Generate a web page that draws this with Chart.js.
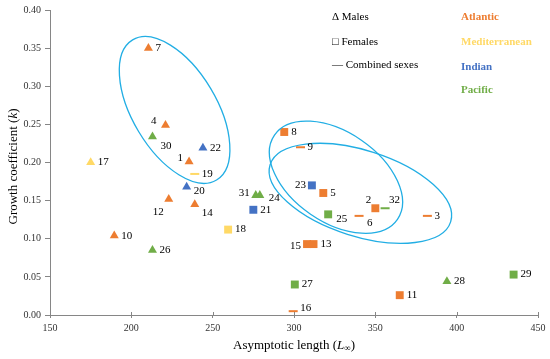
<!DOCTYPE html>
<html>
<head>
<meta charset="utf-8">
<script src="https://cdn.jsdelivr.net/npm/chart.js@4/dist/chart.umd.min.js"></script>
<style>
html,body{margin:0;padding:0;background:#fff;}
#c{display:block;}
</style>
</head>
<body>
<canvas id="c" width="550" height="359"></canvas>
<script>
// ---- data ----
const ids        = [1, 2, 3, 4, 5, 6, 7, 8, 9, 10, 11, 12, 13, 14, 15, 16, 17, 18, 19, 20, 21, 22, 23, 24, 25, 26, 27, 28, 29, 30, 31, 32];
const asymLength = [235.5, 350, 382, 221, 318, 340, 210.5, 294, 304, 189.5, 365, 223, 312, 239, 308, 299.5, 175, 259.5, 239, 234, 275, 244, 311, 279, 321, 213, 300.5, 394, 435, 213, 276.5, 356];
const growthK    = [0.201, 0.140, 0.130, 0.249, 0.160, 0.130, 0.350, 0.240, 0.220, 0.104, 0.026, 0.152, 0.093, 0.145, 0.093, 0.005, 0.200, 0.112, 0.185, 0.168, 0.138, 0.219, 0.170, 0.157, 0.132, 0.085, 0.040, 0.044, 0.053, 0.234, 0.157, 0.140];
const sexes      = ['M','F','C','M','F','C','M','F','C','M','F','M','F','M','F','C','M','F','C','M','F','M','F','M','F','M','F','M','F','M','M','C'];
const oceans     = ['Atlantic','Atlantic','Atlantic','Atlantic','Atlantic','Atlantic','Atlantic','Atlantic','Atlantic','Atlantic','Atlantic','Atlantic','Atlantic','Atlantic','Atlantic','Atlantic','Mediterranean','Mediterranean','Mediterranean','Indian','Indian','Indian','Indian','Pacific','Pacific','Pacific','Pacific','Pacific','Pacific','Pacific','Pacific','Pacific'];
const oceanNames = ['Atlantic','Mediterranean','Indian','Pacific'];
const sexNames   = ['Males','Females','Combined sexes'];
const xTicks     = [150, 200, 250, 300, 350, 400, 450];
const yTicks     = [0, 0.05, 0.10, 0.15, 0.20, 0.25, 0.30, 0.35, 0.40];
// grouping ellipses: [centre, end of long semi-axis, end of short semi-axis] in data units
const ellipses = [
  [[226.6, 0.2689], [252.4, 0.1770], [204.5, 0.2405]],
  [[325.8, 0.1807], [363.6, 0.1254], [310.2, 0.1321]],
  [[340.8, 0.1596], [396.3, 0.1221], [332.9, 0.1058]]
];

// ---- styles ----
const oceanColors = {Atlantic:'#ED7D31', Mediterranean:'#FFD966', Indian:'#4472C4', Pacific:'#70AD47'};
const sexStyle = {
  M: {pointStyle:'triangle', radius:5.2, borderWidth:0},
  F: {pointStyle:'rect', radius:5.6, borderWidth:0},
  C: {pointStyle:'line', radius:4.5, borderWidth:2}
};
// label placement: [dx, dy, align]
const labelPlace = {
  4:[-9,-4,'right'], 30:[8,10,'left'], 1:[-6,-4,'right'], 23:[-6,0,'right'], 25:[8,5,'left'],
  6:[8,7,'left'], 2:[-4,-8,'right'], 32:[4,-8,'left'], 15:[-6,2,'right'], 12:[-5,13,'right'],
  14:[7,9,'left'], 31:[-6,-2,'right'], 24:[9,3,'left'], 20:[7,4,'left'], 16:[7,-3,'left']
};
const SERIF = '"Liberation Serif", "DejaVu Serif", serif';
const AXIS_COLOR = '#868686';

const datasets = [];
oceanNames.forEach(o => {
  ['M','F','C'].forEach(s => {
    const pts = [];
    ids.forEach((id, i) => {
      if (oceans[i] === o && sexes[i] === s) pts.push({x: asymLength[i], y: growthK[i], id: id});
    });
    if (!pts.length) return;
    const st = sexStyle[s];
    datasets.push({
      label: o + ' ' + s,
      data: pts,
      pointStyle: st.pointStyle,
      pointRadius: st.radius,
      pointHoverRadius: st.radius,
      pointBorderWidth: st.borderWidth,
      backgroundColor: oceanColors[o],
      borderColor: oceanColors[o],
      showLine: false
    });
  });
});

const drawPlugin = {
  id: 'decor',
  afterDatasetsDraw(chart) {
    const ctx = chart.ctx;
    const xs = chart.scales.x, ys = chart.scales.y;
    // ellipses
    ctx.save();
    ctx.strokeStyle = '#22AEE4';
    ctx.lineWidth = 1.3;
    ellipses.forEach(e => {
      const c = [xs.getPixelForValue(e[0][0]), ys.getPixelForValue(e[0][1])];
      const p1 = [xs.getPixelForValue(e[1][0]), ys.getPixelForValue(e[1][1])];
      const p2 = [xs.getPixelForValue(e[2][0]), ys.getPixelForValue(e[2][1])];
      const a = Math.hypot(p1[0]-c[0], p1[1]-c[1]);
      const b = Math.hypot(p2[0]-c[0], p2[1]-c[1]);
      const rot = Math.atan2(p1[1]-c[1], p1[0]-c[0]);
      ctx.beginPath();
      ctx.ellipse(c[0], c[1], a, b, rot, 0, Math.PI*2);
      ctx.stroke();
    });
    ctx.restore();
    // point labels
    ctx.save();
    ctx.font = '11px ' + SERIF;
    ctx.fillStyle = '#000';
    ctx.textBaseline = 'middle';
    chart.data.datasets.forEach((ds, di) => {
      const meta = chart.getDatasetMeta(di);
      meta.data.forEach((el, j) => {
        const id = ds.data[j].id;
        const pl = labelPlace[id] || [7, 0, 'left'];
        ctx.textAlign = pl[2];
        ctx.fillText(String(id), el.x + pl[0], el.y + pl[1]);
      });
    });
    ctx.restore();
  },
  afterDraw(chart) {
    const ctx = chart.ctx;
    const ca = chart.chartArea;
    const xs = chart.scales.x;
    ctx.save();
    // inner part of the crossing x ticks
    ctx.strokeStyle = AXIS_COLOR;
    ctx.lineWidth = 1;
    xs.ticks.forEach(t => {
      const px = Math.round(xs.getPixelForValue(t.value)) + 0.5;
      ctx.beginPath();
      ctx.moveTo(px, ca.bottom - 3);
      ctx.lineTo(px, ca.bottom);
      ctx.stroke();
    });
    // legend (sex)
    ctx.fillStyle = '#000';
    ctx.textBaseline = 'middle';
    ctx.textAlign = 'left';
    ctx.font = '11px ' + SERIF;
    ctx.fillText('\u0394 ' + sexNames[0], 332, 17);
    ctx.fillText('\u25A1 ' + sexNames[1], 332, 42);
    ctx.fillText('\u2014 ' + sexNames[2], 332, 65);
    // legend (oceans)
    ctx.font = 'bold 11px ' + SERIF;
    const oy = [17, 42, 67, 90];
    oceanNames.forEach((o, i) => {
      ctx.fillStyle = oceanColors[o];
      ctx.fillText(o, 461, oy[i]);
    });
    // x title
    ctx.fillStyle = '#000';
    const p1 = 'Asymptotic length (';
    ctx.font = '13px ' + SERIF;
    const w1 = ctx.measureText(p1).width;
    ctx.font = 'italic 13px ' + SERIF;
    const wL = ctx.measureText('L').width;
    ctx.font = '9px ' + SERIF;
    const wI = ctx.measureText('\u221E').width;
    ctx.font = '13px ' + SERIF;
    const w3 = ctx.measureText(')').width;
    const total = w1 + wL + wI + w3;
    let x0 = (ca.left + ca.right) / 2 - total / 2;
    const ty = 346;
    ctx.fillText(p1, x0, ty); x0 += w1;
    ctx.font = 'italic 13px ' + SERIF;
    ctx.fillText('L', x0, ty); x0 += wL;
    ctx.font = '9px ' + SERIF;
    ctx.fillText('\u221E', x0, ty + 3); x0 += wI;
    ctx.font = '13px ' + SERIF;
    ctx.fillText(')', x0, ty);
    // y title
    ctx.translate(14, (ca.top + ca.bottom) / 2 + 4);
    ctx.rotate(-Math.PI / 2);
    const yt1 = 'Growth coefficient (';
    ctx.font = '13px ' + SERIF;
    const yw1 = ctx.measureText(yt1).width;
    ctx.font = 'italic 13px ' + SERIF;
    const ywk = ctx.measureText('k').width;
    ctx.font = '13px ' + SERIF;
    const yw3 = ctx.measureText(')').width;
    let yx = -(yw1 + ywk + yw3) / 2;
    ctx.fillText(yt1, yx, 0); yx += yw1;
    ctx.font = 'italic 13px ' + SERIF;
    ctx.fillText('k', yx, 0); yx += ywk;
    ctx.font = '13px ' + SERIF;
    ctx.fillText(')', yx, 0);
    ctx.restore();
  }
};

new Chart(document.getElementById('c'), {
  type: 'scatter',
  data: { datasets: datasets },
  options: {
    responsive: false,
    animation: false,
    devicePixelRatio: 1,
    layout: { padding: { top: 10, right: 12, left: 0, bottom: 0 } },
    plugins: { legend: { display: false }, tooltip: { enabled: false } },
    events: [],
    scales: {
      x: {
        type: 'linear',
        min: xTicks[0], max: xTicks[xTicks.length - 1],
        afterFit(s) { s.height = 44; },
        afterBuildTicks(s) { s.ticks = xTicks.map(v => ({value: v})); },
        grid: { drawOnChartArea: false, display: true, tickLength: 3, color: AXIS_COLOR },
        border: { display: true, color: AXIS_COLOR, width: 1 },
        ticks: { font: { family: SERIF, size: 10 }, color: '#333', padding: 4 }
      },
      y: {
        type: 'linear',
        min: yTicks[0], max: yTicks[yTicks.length - 1],
        afterFit(s) { s.width = 50; },
        afterBuildTicks(s) { s.ticks = yTicks.map(v => ({value: v})); },
        grid: { drawOnChartArea: false, display: true, tickLength: 5, color: AXIS_COLOR },
        border: { display: true, color: AXIS_COLOR, width: 1 },
        ticks: { font: { family: SERIF, size: 10 }, color: '#333', padding: 4,
                 callback: v => Number(v).toFixed(2) }
      }
    }
  },
  plugins: [drawPlugin]
});
</script>
</body>
</html>
